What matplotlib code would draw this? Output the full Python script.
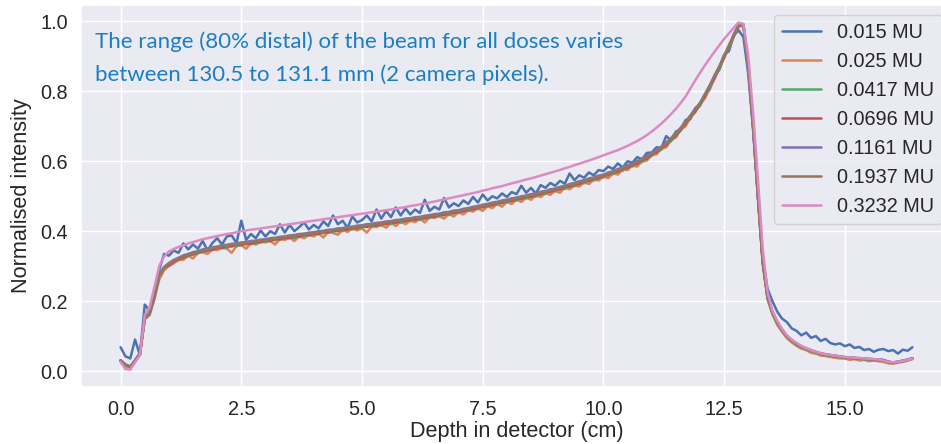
import numpy as np
import matplotlib
matplotlib.use("Agg")
import matplotlib.pyplot as plt
import seaborn as sns

sns.set_theme(style="darkgrid")
plt.rcParams['font.family'] = ['Liberation Sans', 'DejaVu Sans']

# depth grid (cm), 0.1 cm steps from 0.0 to 16.4
depth = np.round(np.arange(165) * 0.1, 1)

labels = ["0.015 MU", "0.025 MU", "0.0417 MU", "0.0696 MU",
          "0.1161 MU", "0.1937 MU", "0.3232 MU"]

mu_0015 = [
    0.068, 0.042, 0.036, 0.090, 0.045, 0.190, 0.172, 0.225, 0.290, 0.335,
    0.330, 0.345, 0.338, 0.365, 0.348, 0.362, 0.350, 0.372, 0.345, 0.366,
    0.380, 0.362, 0.385, 0.388, 0.366, 0.430, 0.375, 0.392, 0.380, 0.402,
    0.385, 0.400, 0.392, 0.420, 0.396, 0.418, 0.400, 0.412, 0.425, 0.405,
    0.418, 0.408, 0.428, 0.415, 0.445, 0.420, 0.430, 0.410, 0.442, 0.425,
    0.432, 0.445, 0.428, 0.462, 0.436, 0.458, 0.440, 0.468, 0.445, 0.465,
    0.448, 0.462, 0.452, 0.490, 0.458, 0.470, 0.462, 0.495, 0.468, 0.480,
    0.472, 0.488, 0.478, 0.498, 0.482, 0.505, 0.488, 0.500, 0.494, 0.508,
    0.498, 0.512, 0.506, 0.530, 0.510, 0.524, 0.508, 0.532, 0.524, 0.538,
    0.530, 0.544, 0.536, 0.565, 0.546, 0.560, 0.553, 0.568, 0.560, 0.575,
    0.572, 0.585, 0.578, 0.594, 0.582, 0.600, 0.596, 0.612, 0.606, 0.624,
    0.625, 0.640, 0.638, 0.672, 0.660, 0.685, 0.690, 0.718, 0.720, 0.752,
    0.762, 0.790, 0.805, 0.845, 0.862, 0.905, 0.915, 0.960, 0.975, 0.955,
    0.850, 0.690, 0.500, 0.320, 0.235, 0.200, 0.170, 0.150, 0.140, 0.122,
    0.115, 0.102, 0.110, 0.095, 0.100, 0.086, 0.092, 0.080, 0.076, 0.079,
    0.071, 0.076, 0.066, 0.069, 0.060, 0.063, 0.055, 0.061, 0.063, 0.057,
    0.060, 0.050, 0.061, 0.058, 0.068]

mu_0025 = [
    0.028, 0.014, 0.008, 0.028, 0.048, 0.148, 0.160, 0.205, 0.262, 0.288,
    0.300, 0.308, 0.318, 0.318, 0.330, 0.322, 0.338, 0.340, 0.335, 0.348,
    0.346, 0.352, 0.350, 0.338, 0.358, 0.360, 0.350, 0.366, 0.362, 0.370,
    0.368, 0.372, 0.362, 0.378, 0.375, 0.382, 0.372, 0.386, 0.380, 0.390,
    0.385, 0.394, 0.382, 0.398, 0.395, 0.390, 0.404, 0.398, 0.408, 0.402,
    0.408, 0.396, 0.414, 0.412, 0.418, 0.410, 0.424, 0.415, 0.428, 0.420,
    0.430, 0.426, 0.436, 0.425, 0.440, 0.438, 0.444, 0.436, 0.450, 0.442,
    0.455, 0.448, 0.460, 0.456, 0.466, 0.458, 0.472, 0.466, 0.478, 0.470,
    0.484, 0.478, 0.490, 0.484, 0.496, 0.490, 0.502, 0.498, 0.508, 0.504,
    0.516, 0.510, 0.524, 0.520, 0.530, 0.528, 0.540, 0.535, 0.548, 0.545,
    0.556, 0.552, 0.566, 0.562, 0.576, 0.575, 0.588, 0.585, 0.600, 0.602,
    0.618, 0.620, 0.636, 0.640, 0.660, 0.668, 0.690, 0.700, 0.725, 0.740,
    0.762, 0.780, 0.808, 0.835, 0.866, 0.895, 0.928, 0.958, 0.985, 0.988,
    0.866, 0.696, 0.496, 0.306, 0.205, 0.162, 0.132, 0.112, 0.094, 0.082,
    0.072, 0.064, 0.060, 0.052, 0.050, 0.044, 0.043, 0.040, 0.038, 0.036,
    0.036, 0.032, 0.034, 0.030, 0.032, 0.028, 0.030, 0.028, 0.026, 0.022,
    0.021, 0.024, 0.026, 0.030, 0.034]

mu_0417 = [
    0.030, 0.017, 0.011, 0.029, 0.050, 0.150, 0.163, 0.212, 0.272, 0.294,
    0.304, 0.316, 0.318, 0.330, 0.328, 0.338, 0.336, 0.346, 0.342, 0.352,
    0.350, 0.358, 0.352, 0.362, 0.356, 0.366, 0.362, 0.370, 0.364, 0.374,
    0.370, 0.378, 0.374, 0.382, 0.378, 0.386, 0.380, 0.390, 0.386, 0.394,
    0.390, 0.398, 0.394, 0.402, 0.397, 0.406, 0.400, 0.410, 0.405, 0.414,
    0.410, 0.418, 0.412, 0.422, 0.416, 0.426, 0.420, 0.430, 0.424, 0.434,
    0.430, 0.438, 0.432, 0.442, 0.438, 0.447, 0.442, 0.452, 0.446, 0.457,
    0.452, 0.462, 0.458, 0.468, 0.463, 0.474, 0.470, 0.480, 0.476, 0.486,
    0.482, 0.492, 0.488, 0.498, 0.494, 0.504, 0.499, 0.511, 0.507, 0.518,
    0.514, 0.525, 0.521, 0.533, 0.529, 0.541, 0.537, 0.549, 0.545, 0.557,
    0.554, 0.566, 0.563, 0.576, 0.573, 0.587, 0.585, 0.599, 0.598, 0.613,
    0.615, 0.631, 0.633, 0.652, 0.657, 0.679, 0.687, 0.712, 0.722, 0.748,
    0.758, 0.790, 0.808, 0.843, 0.862, 0.901, 0.924, 0.961, 0.988, 0.990,
    0.870, 0.700, 0.500, 0.310, 0.208, 0.165, 0.137, 0.115, 0.097, 0.086,
    0.075, 0.068, 0.062, 0.057, 0.052, 0.049, 0.045, 0.044, 0.041, 0.040,
    0.037, 0.037, 0.035, 0.035, 0.033, 0.033, 0.031, 0.031, 0.029, 0.025,
    0.023, 0.025, 0.028, 0.031, 0.035]

mu_0696 = [
    0.031, 0.018, 0.012, 0.030, 0.050, 0.151, 0.165, 0.214, 0.274, 0.295,
    0.303, 0.312, 0.320, 0.324, 0.332, 0.333, 0.340, 0.341, 0.347, 0.346,
    0.353, 0.352, 0.358, 0.356, 0.362, 0.360, 0.366, 0.363, 0.370, 0.368,
    0.374, 0.372, 0.378, 0.376, 0.382, 0.380, 0.386, 0.384, 0.390, 0.388,
    0.394, 0.392, 0.398, 0.396, 0.402, 0.400, 0.406, 0.404, 0.410, 0.408,
    0.414, 0.412, 0.418, 0.416, 0.422, 0.420, 0.426, 0.424, 0.430, 0.428,
    0.434, 0.432, 0.438, 0.436, 0.443, 0.441, 0.447, 0.446, 0.452, 0.451,
    0.457, 0.456, 0.463, 0.462, 0.469, 0.468, 0.475, 0.474, 0.481, 0.480,
    0.487, 0.486, 0.493, 0.492, 0.499, 0.498, 0.505, 0.505, 0.512, 0.512,
    0.519, 0.519, 0.527, 0.527, 0.535, 0.535, 0.543, 0.543, 0.551, 0.551,
    0.559, 0.560, 0.569, 0.570, 0.579, 0.581, 0.591, 0.593, 0.604, 0.607,
    0.621, 0.625, 0.639, 0.646, 0.663, 0.673, 0.693, 0.706, 0.728, 0.742,
    0.764, 0.785, 0.814, 0.838, 0.869, 0.897, 0.929, 0.957, 0.989, 0.991,
    0.872, 0.702, 0.502, 0.312, 0.211, 0.168, 0.140, 0.118, 0.100, 0.088,
    0.078, 0.070, 0.064, 0.059, 0.054, 0.050, 0.047, 0.045, 0.043, 0.041,
    0.039, 0.038, 0.037, 0.036, 0.035, 0.034, 0.033, 0.032, 0.031, 0.026,
    0.024, 0.026, 0.029, 0.032, 0.036]

mu_1161 = [
    0.031, 0.019, 0.013, 0.031, 0.051, 0.152, 0.166, 0.216, 0.277, 0.298,
    0.309, 0.318, 0.324, 0.331, 0.335, 0.340, 0.343, 0.348, 0.350, 0.354,
    0.356, 0.360, 0.361, 0.364, 0.365, 0.368, 0.369, 0.372, 0.373, 0.376,
    0.377, 0.380, 0.381, 0.384, 0.385, 0.388, 0.389, 0.392, 0.393, 0.396,
    0.397, 0.400, 0.401, 0.404, 0.405, 0.408, 0.409, 0.412, 0.413, 0.416,
    0.417, 0.420, 0.421, 0.424, 0.425, 0.428, 0.429, 0.432, 0.433, 0.436,
    0.437, 0.440, 0.441, 0.444, 0.446, 0.449, 0.450, 0.454, 0.455, 0.459,
    0.460, 0.464, 0.466, 0.470, 0.472, 0.476, 0.478, 0.482, 0.484, 0.488,
    0.490, 0.494, 0.496, 0.500, 0.502, 0.506, 0.508, 0.513, 0.515, 0.520,
    0.522, 0.527, 0.530, 0.535, 0.538, 0.543, 0.546, 0.551, 0.554, 0.559,
    0.562, 0.568, 0.572, 0.578, 0.582, 0.589, 0.594, 0.601, 0.607, 0.615,
    0.624, 0.633, 0.642, 0.654, 0.666, 0.681, 0.696, 0.714, 0.731, 0.750,
    0.767, 0.792, 0.817, 0.845, 0.872, 0.903, 0.932, 0.963, 0.991, 0.991,
    0.871, 0.701, 0.501, 0.311, 0.211, 0.169, 0.141, 0.119, 0.101, 0.089,
    0.079, 0.071, 0.065, 0.060, 0.055, 0.051, 0.048, 0.046, 0.044, 0.042,
    0.040, 0.039, 0.038, 0.037, 0.036, 0.035, 0.034, 0.033, 0.032, 0.027,
    0.025, 0.027, 0.030, 0.033, 0.037]

mu_1937 = [
    0.030, 0.018, 0.012, 0.030, 0.050, 0.150, 0.165, 0.215, 0.275, 0.296,
    0.307, 0.315, 0.322, 0.328, 0.333, 0.337, 0.341, 0.345, 0.348, 0.351,
    0.354, 0.357, 0.359, 0.361, 0.363, 0.365, 0.367, 0.369, 0.371, 0.373,
    0.375, 0.377, 0.379, 0.381, 0.383, 0.385, 0.387, 0.389, 0.391, 0.393,
    0.395, 0.397, 0.399, 0.401, 0.403, 0.405, 0.407, 0.409, 0.411, 0.413,
    0.415, 0.417, 0.419, 0.421, 0.423, 0.425, 0.427, 0.429, 0.431, 0.433,
    0.435, 0.437, 0.439, 0.441, 0.444, 0.446, 0.448, 0.451, 0.453, 0.456,
    0.458, 0.461, 0.464, 0.467, 0.470, 0.473, 0.476, 0.479, 0.482, 0.485,
    0.488, 0.491, 0.494, 0.497, 0.500, 0.503, 0.506, 0.510, 0.513, 0.517,
    0.520, 0.524, 0.528, 0.532, 0.536, 0.540, 0.544, 0.548, 0.552, 0.556,
    0.560, 0.565, 0.570, 0.575, 0.580, 0.586, 0.592, 0.598, 0.605, 0.612,
    0.622, 0.630, 0.640, 0.651, 0.664, 0.678, 0.694, 0.711, 0.729, 0.747,
    0.765, 0.790, 0.815, 0.842, 0.870, 0.900, 0.930, 0.960, 0.990, 0.990,
    0.870, 0.700, 0.500, 0.310, 0.210, 0.168, 0.140, 0.118, 0.100, 0.088,
    0.078, 0.070, 0.064, 0.059, 0.054, 0.050, 0.047, 0.045, 0.043, 0.041,
    0.039, 0.038, 0.037, 0.036, 0.035, 0.034, 0.033, 0.032, 0.031, 0.026,
    0.024, 0.026, 0.029, 0.032, 0.036]

mu_3232 = [
    0.026, 0.006, 0.004, 0.025, 0.045, 0.160, 0.182, 0.240, 0.300, 0.328,
    0.342, 0.349, 0.355, 0.360, 0.365, 0.369, 0.373, 0.377, 0.380, 0.383,
    0.386, 0.389, 0.392, 0.394, 0.397, 0.400, 0.402, 0.404, 0.406, 0.408,
    0.410, 0.412, 0.414, 0.416, 0.418, 0.420, 0.422, 0.424, 0.426, 0.428,
    0.430, 0.432, 0.434, 0.436, 0.438, 0.440, 0.442, 0.444, 0.446, 0.448,
    0.450, 0.452, 0.454, 0.456, 0.458, 0.460, 0.462, 0.464, 0.467, 0.469,
    0.472, 0.474, 0.477, 0.479, 0.482, 0.485, 0.488, 0.491, 0.494, 0.497,
    0.500, 0.503, 0.506, 0.509, 0.512, 0.516, 0.519, 0.523, 0.526, 0.529,
    0.533, 0.537, 0.540, 0.544, 0.548, 0.551, 0.555, 0.559, 0.563, 0.567,
    0.571, 0.575, 0.580, 0.584, 0.589, 0.593, 0.598, 0.602, 0.607, 0.612,
    0.617, 0.622, 0.627, 0.632, 0.638, 0.644, 0.651, 0.658, 0.666, 0.675,
    0.685, 0.696, 0.708, 0.721, 0.735, 0.750, 0.767, 0.785, 0.808, 0.831,
    0.853, 0.874, 0.894, 0.913, 0.932, 0.950, 0.966, 0.982, 0.997, 0.993,
    0.900, 0.740, 0.550, 0.350, 0.225, 0.172, 0.143, 0.120, 0.102, 0.090,
    0.080, 0.072, 0.065, 0.060, 0.055, 0.051, 0.048, 0.046, 0.044, 0.042,
    0.040, 0.039, 0.038, 0.037, 0.036, 0.035, 0.034, 0.033, 0.030, 0.026,
    0.025, 0.026, 0.029, 0.032, 0.035]

series = [mu_0015, mu_0025, mu_0417, mu_0696, mu_1161, mu_1937, mu_3232]

note = ("The range (80% distal) of the beam for all doses varies\n"
        "between 130.5 to 131.1 mm (2 camera pixels).")

fig = plt.figure(figsize=(9.41, 4.44), dpi=100)
ax = fig.add_axes([0.0861, 0.1284, 0.9256, 0.860])
colors = sns.color_palette("deep")
for vals, lab, c in zip(series, labels, colors):
    ax.plot(depth, vals, color=c, lw=1.8, label=lab)

ax.set_xlabel("Depth in detector (cm)", fontsize=15.6, labelpad=1)
ax.set_ylabel("Normalised intensity", fontsize=15.6, labelpad=6)
ax.tick_params(labelsize=14.3)
ax.set_yticks([0.0, 0.2, 0.4, 0.6, 0.8, 1.0])

ax.text(-0.54, 0.895, note, color="#1b7ec3", fontsize=16,
        family=["Lato", "DejaVu Sans"], va="center", ha="left",
        linespacing=1.8)

ax.legend(loc="upper right", fontsize=14.3, frameon=True, labelspacing=0.5)

fig.savefig("out.png", dpi=100)
